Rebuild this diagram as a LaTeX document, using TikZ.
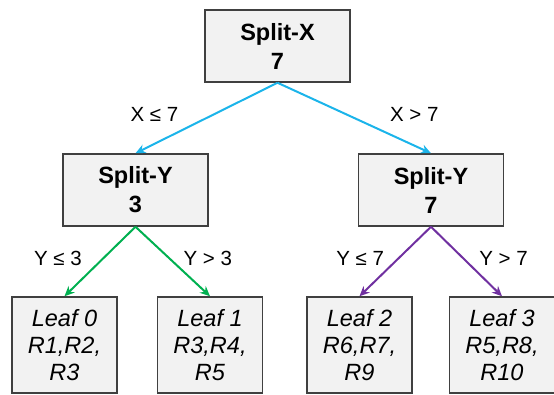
\documentclass[tikz,border=0pt]{standalone}
\usepackage{fontspec}
\setmainfont{Liberation Sans}
\usepackage{xcolor}
\usepackage{tikz}
\usetikzlibrary{arrows.meta}

\definecolor{splitcyan}{RGB}{27,180,234}
\definecolor{splitgreen}{RGB}{0,176,80}
\definecolor{splitpurple}{RGB}{112,48,160}
\definecolor{boxfill}{RGB}{242,242,242}
\definecolor{boxline}{RGB}{64,64,64}

\tikzset{
    splitbox/.style={rectangle, draw=boxline, line width=1.5pt, fill=boxfill, minimum width=145pt, minimum height=72pt, inner sep=0pt, align=center, font=\fontsize{23.5}{29}\selectfont\bfseries},
    leafbox/.style={rectangle, draw=boxline, line width=1.5pt, fill=boxfill, minimum width=105pt, minimum height=96pt, inner sep=0pt, align=center, font=\fontsize{23.5}{27}\selectfont\itshape},
    branch/.style={line width=2pt, -{Stealth[length=10pt,width=9pt]}},
    cond/.style={font=\fontsize{20.5}{24}\selectfont}
}

\begin{document}
\begin{tikzpicture}[node distance=144pt]
    \useasboundingbox (0,0) rectangle (554pt,-394pt);
    % Nodes
    \node (root) [splitbox] at (277.5pt,-46pt) {Split-X\\7};

    \node (splitL) [splitbox, below of=root, xshift=-142pt] {Split-Y\\3};
    \node (splitR) [splitbox, below of=root, xshift=153.5pt] {Split-Y\\7};

    \node (leaf0) [leafbox, below of=splitL, xshift=-71pt, yshift=-11pt] {Leaf 0\\R1,R2,\\R3};
    \node (leaf1) [leafbox, below of=splitL, xshift=74.5pt, yshift=-11pt] {Leaf 1\\R3,R4,\\R5};
    \node (leaf2) [leafbox, below of=splitR, xshift=-71.5pt, yshift=-11pt] {Leaf 2\\R6,R7,\\R9};
    \node (leaf3) [leafbox, below of=splitR, xshift=71pt, yshift=-11pt] {Leaf 3\\R5,R8,\\R10};

    % Connections
    \draw [branch, splitcyan] (root.south) -- (splitL.north) node[cond, midway, xshift=-52pt, yshift=4pt, text=black] {X ≤ 7};
    \draw [branch, splitcyan] (root.south) -- (splitR.north) node[cond, midway, xshift=60pt, yshift=4pt, text=black] {X > 7};

    \draw [branch, splitgreen] (splitL.south) -- (leaf0.north) node[cond, midway, xshift=-42pt, yshift=3pt, text=black] {Y ≤ 3};
    \draw [branch, splitgreen] (splitL.south) -- (leaf1.north) node[cond, midway, xshift=35pt, yshift=3pt, text=black] {Y > 3};

    \draw [branch, splitpurple] (splitR.south) -- (leaf2.north) node[cond, midway, xshift=-35pt, yshift=3pt, text=black] {Y ≤ 7};
    \draw [branch, splitpurple] (splitR.south) -- (leaf3.north) node[cond, midway, xshift=37pt, yshift=3pt, text=black] {Y > 7};
\end{tikzpicture}
\end{document}
